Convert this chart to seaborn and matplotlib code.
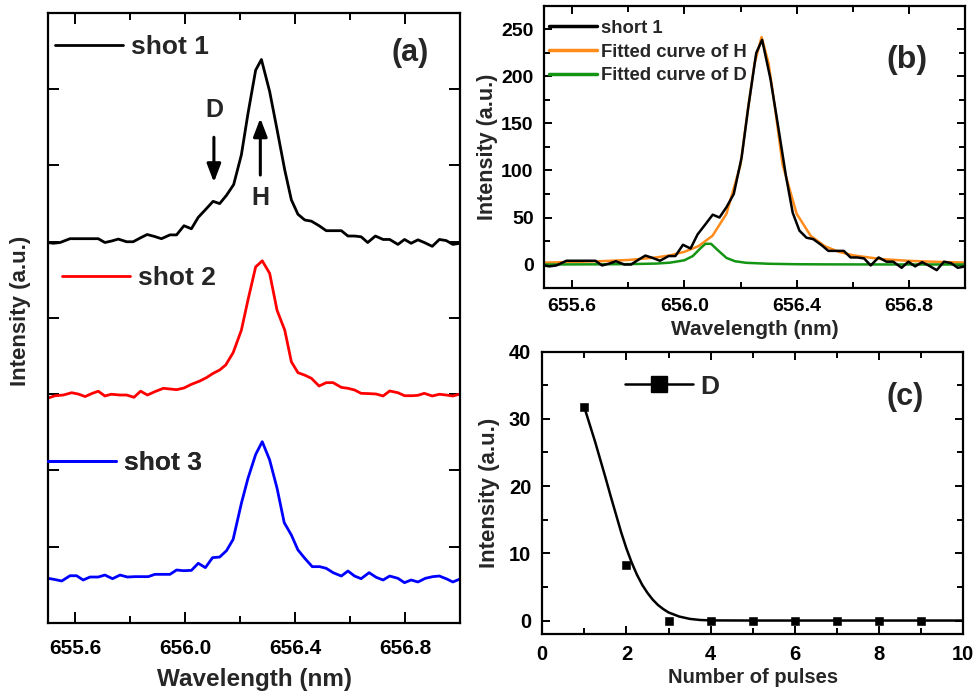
import matplotlib
matplotlib.use('Agg')
import numpy as np
import pandas as pd
import matplotlib.pyplot as plt
from matplotlib.lines import Line2D
from matplotlib.ticker import MultipleLocator, FormatStrFormatter, NullFormatter
import seaborn as sns

sns.set_theme(style='ticks')
plt.rcParams['font.family'] = ['Liberation Sans', 'DejaVu Sans']
plt.rcParams['font.weight'] = 'bold'
plt.rcParams['axes.labelweight'] = 'bold'

# ---------------- data ----------------
shot1_wl = [655.500, 655.519, 655.544, 655.580, 655.604, 655.628, 655.655, 655.683, 655.707, 655.732,
            655.756, 655.786, 655.810, 655.836, 655.861, 655.887, 655.913, 655.944, 655.968, 655.995,
            656.022, 656.047, 656.073, 656.101, 656.125, 656.150, 656.176, 656.204, 656.228, 656.256,
            656.277, 656.307, 656.334, 656.362, 656.386, 656.410, 656.435, 656.459, 656.487, 656.513,
            656.544, 656.568, 656.592, 656.616, 656.640, 656.664, 656.692, 656.720, 656.744, 656.774,
            656.798, 656.822, 656.847, 656.870, 656.899, 656.925, 656.950, 656.974, 657.000]
shot1_int = [-1, -2, -1, 4, 4, 4, 4, 4, -1, 1,
             3.5, 0, 0, 5, 9.5, 7, 4, 9, 9, 21,
             17, 32, 42, 53, 50, 61, 75, 114, 168, 225,
             239, 197, 147, 94, 55, 36, 28.5, 27, 21, 14.5,
             14.5, 14.5, 7.5, 7.5, 6.5, -1, 7.5, 3, 3, -3.5,
             3, -2, 2.5, -1, -6, 3, 1.5, -3.5, -2]

shot2_wl = [655.500, 655.525, 655.556, 655.586, 655.610, 655.635, 655.660, 655.683, 655.707, 655.730,
            655.762, 655.786, 655.813, 655.837, 655.862, 655.889, 655.920, 655.944, 655.968, 655.995,
            656.022, 656.053, 656.077, 656.101, 656.125, 656.147, 656.174, 656.204, 656.228, 656.256,
            656.280, 656.307, 656.334, 656.362, 656.386, 656.410, 656.435, 656.459, 656.487, 656.513,
            656.538, 656.568, 656.592, 656.616, 656.640, 656.670, 656.695, 656.720, 656.744, 656.774,
            656.798, 656.828, 656.847, 656.870, 656.899, 656.925, 656.950, 656.974, 657.000]
shot2_int = [-5, -2, -1, 2, 0.3, -3, 1, 4, -2.3, 0,
             -1, -1, -4, 4, -1, 3.4, 7.8, 6.9, 6, 8.2,
             13, 17.4, 21.8, 27.4, 31.8, 38.4, 54.5, 84, 123.6, 167,
             175, 158.6, 110, 84, 42.6, 28.3, 25, 20.9, 10.8, 15.2,
             15.2, 9, 7.8, 5.6, 1.2, 0.8, 0.3, -2.3, 4.3, 2,
             -1.9, -1.9, -1.4, 1.2, -2.3, 0, -1, -2.3, 0.3]

shot3_wl = [655.500, 655.525, 655.550, 655.580, 655.604, 655.628, 655.653, 655.683, 655.707, 655.735,
            655.762, 655.789, 655.816, 655.840, 655.865, 655.889, 655.915, 655.944, 655.968, 655.993,
            656.022, 656.047, 656.073, 656.099, 656.125, 656.150, 656.174, 656.204, 656.228, 656.256,
            656.280, 656.307, 656.334, 656.360, 656.386, 656.410, 656.435, 656.462, 656.489, 656.513,
            656.538, 656.568, 656.592, 656.616, 656.640, 656.669, 656.695, 656.720, 656.744, 656.774,
            656.798, 656.822, 656.847, 656.874, 656.901, 656.925, 656.952, 656.974, 657.000]
shot3_int = [-1.4, -3, -4.9, 2, 2, -3.6, 0.3, 0.3, 2.9, -1.9,
             2.9, 0.3, 0.8, 0.8, 0.8, 3.8, 3.8, 3.8, 9.5, 8.6,
             9, 18.3, 12.6, 25.7, 26.5, 34.9, 49.7, 96.9, 129.7, 161,
             177.8, 153.8, 116.6, 71.6, 55.4, 35.8, 24.8, 13.9, 13.9, 11.7,
             6, 1.6, 8.2, 1.6, -1.9, 6, -0.1, -3.6, 1.6, -1.4,
             -7.1, -3.6, -6.2, -1.4, 0.8, 1.6, -2.3, -6.2, -2.3]

fitH_wl = [655.50, 655.60, 655.70, 655.80, 655.90, 655.95, 656.00, 656.05, 656.10, 656.15,
           656.20, 656.225, 656.25, 656.275, 656.30, 656.325, 656.35, 656.40, 656.45, 656.50,
           656.55, 656.60, 656.70, 656.80, 656.90, 657.00]
fitH_int = [2.0, 2.7, 3.5, 4.8, 7.5, 9.8, 13.5, 19.5, 30.5, 54,
            106, 162, 214, 242, 214, 162, 106, 54, 30.5, 19.5,
            13.5, 9.8, 5.8, 3.9, 2.8, 2.1]

fitD_wl = [655.50, 655.70, 655.80, 655.90, 655.95, 656.00, 656.03, 656.06, 656.075, 656.095,
           656.12, 656.15, 656.18, 656.22, 656.30, 656.40, 656.50, 656.70, 657.00]
fitD_int = [0, 0.2, 0.4, 1, 2, 4.5, 9, 18, 22, 22,
            15, 7, 3.5, 1.8, 0.8, 0.3, 0.15, 0.05, 0]

pulses = [1, 2, 3, 4, 5, 6, 7, 8, 9]
D_int = [31.7, 8.3, 0, 0, 0, 0, 0, 0, 0]

fitC_x = [1.0, 1.125, 1.25, 1.375, 1.5, 1.625, 1.75, 1.875, 2.0, 2.125, 2.25, 2.375, 2.5,
          2.625, 2.75, 2.875, 3.0, 3.25, 3.5, 3.75, 4.0, 5.0, 6.0, 8.0, 10.0]
fitC_y = [31.7, 29.2, 26.7, 24.0, 21.3, 18.5, 15.8, 13.1, 10.7, 8.6, 6.8, 5.3, 4.1,
          3.1, 2.3, 1.7, 1.2, 0.6, 0.25, 0.08, 0.02, 0, 0, 0, 0]

shot_labels = ['shot 1', 'shot 2', 'shot 3']
shot_colors = ['black', '#FF0000', '#0000FF']
offsets = [5.0, 3.0, 0.6]
scale = 100.0

# ---------------- figure ----------------
fig = plt.figure(figsize=(9.76, 6.95), dpi=100)
axA = fig.add_axes([0.0492, 0.1036, 0.4221, 0.8777])
axB = fig.add_axes([0.5574, 0.5856, 0.4314, 0.4058])
axC = fig.add_axes([0.5556, 0.0878, 0.4314, 0.4062])

def style_axes(ax, lab_size, pad):
    for s in ax.spines.values():
        s.set_linewidth(1.6)
        s.set_color('black')
    ax.tick_params(which='both', direction='in', top=True, right=True, width=1.4,
                   colors='black', labelsize=lab_size, pad=pad)
    for t in ax.get_xticklabels() + ax.get_yticklabels():
        t.set_fontweight('bold')

# ---- panel (a)
shots = [(shot1_wl, shot1_int), (shot2_wl, shot2_int), (shot3_wl, shot3_int)]
lines_a = []
for (wl, it), lab, col, off in zip(shots, shot_labels, shot_colors, offsets):
    df = pd.DataFrame({'wl': wl, 'y': np.array(it) / scale + off})
    sns.lineplot(data=df, x='wl', y='y', ax=axA, color=col, lw=2.0, legend=False, sort=False)
    lines_a.append(axA.lines[-1])

axA.set_xlim(655.5, 657.0)
axA.set_ylim(0, 8)
axA.xaxis.set_major_locator(MultipleLocator(0.4))
axA.xaxis.set_minor_locator(MultipleLocator(0.2))
axA.xaxis.set_major_formatter(FormatStrFormatter('%.1f'))
axA.yaxis.set_major_locator(MultipleLocator(1))
axA.yaxis.set_major_formatter(NullFormatter())
style_axes(axA, 15, 11.5)
axA.tick_params(which='major', length=8)
axA.tick_params(which='minor', length=5, width=1.4)
axA.set_xlabel('Wavelength (nm)', fontsize=17.5, fontweight='bold', labelpad=7)
axA.set_ylabel('Intensity (a.u.)', fontsize=16, fontweight='bold')
axA.yaxis.set_label_coords(-0.041, 0.511)

leg_pos = [(0.017, 0.944), (0.034, 0.566), (0.0, 0.262)]
for ln, lab, pos in zip(lines_a, shot_labels, leg_pos):
    lg = axA.legend([ln], [lab], loc='center left', bbox_to_anchor=pos, frameon=False,
                    borderpad=0, borderaxespad=0, handlelength=2.57, handletextpad=0.32,
                    prop={'size': 19, 'weight': 'bold'})
    axA.add_artist(lg)

axA.annotate('', xy=(656.104, 5.78), xytext=(656.104, 6.37),
             arrowprops=dict(arrowstyle='-|>,head_length=1.1,head_width=0.42', lw=2.2,
                             color='black', shrinkA=0, shrinkB=0, mutation_scale=10))
axA.text(656.104, 6.73, 'D', ha='center', va='center', fontsize=18, fontweight='bold')
axA.annotate('', xy=(656.273, 6.62), xytext=(656.273, 5.875),
             arrowprops=dict(arrowstyle='-|>,head_length=1.1,head_width=0.42', lw=2.2,
                             color='black', shrinkA=0, shrinkB=0, mutation_scale=10))
axA.text(656.273, 5.57, 'H', ha='center', va='center', fontsize=18, fontweight='bold')
axA.text(0.879, 0.934, '(a)', transform=axA.transAxes, ha='center', va='center',
         fontsize=22, fontweight='bold')

# ---- panel (b)
dfB = pd.DataFrame({'wl': shot1_wl, 'y': shot1_int})
sns.lineplot(data=dfB, x='wl', y='y', ax=axB, color='black', lw=1.8, label='short 1', sort=False)
dfH = pd.DataFrame({'wl': fitH_wl, 'y': fitH_int})
sns.lineplot(data=dfH, x='wl', y='y', ax=axB, color='#FF8C1A', lw=1.8, label='Fitted curve of H', sort=False)
dfD = pd.DataFrame({'wl': fitD_wl, 'y': fitD_int})
sns.lineplot(data=dfD, x='wl', y='y', ax=axB, color='#139413', lw=1.8, label='Fitted curve of D', sort=False)
axB.lines[0].set_zorder(3)
axB.set_xlim(655.5, 657.0)
axB.set_ylim(-25, 275)
axB.xaxis.set_major_locator(MultipleLocator(0.4))
axB.xaxis.set_minor_locator(MultipleLocator(0.2))
axB.xaxis.set_major_formatter(FormatStrFormatter('%.1f'))
axB.yaxis.set_major_locator(MultipleLocator(50))
axB.yaxis.set_minor_locator(MultipleLocator(25))
style_axes(axB, 14, 7.5)
axB.tick_params(which='major', length=6)
axB.tick_params(which='minor', length=4, width=1.4)
axB.set_xlabel('Wavelength (nm)', fontsize=15, fontweight='bold', labelpad=3)
axB.set_ylabel('Intensity (a.u.)', fontsize=15.5, fontweight='bold', labelpad=2)
lgB = axB.legend(loc='upper left', bbox_to_anchor=(0.012, 0.951), frameon=False, borderpad=0,
                 borderaxespad=0, handlelength=2.6, handletextpad=0.23, labelspacing=0.37,
                 prop={'size': 13.3, 'weight': 'bold'})
for h in lgB.get_lines():
    h.set_linewidth(2.5)
axB.text(0.862, 0.809, '(b)', transform=axB.transAxes, ha='center', va='center',
         fontsize=23, fontweight='bold')

# ---- panel (c)
dfC = pd.DataFrame({'x': fitC_x, 'y': fitC_y})
sns.lineplot(data=dfC, x='x', y='y', ax=axC, color='black', lw=1.8, legend=False, sort=False)
dfP = pd.DataFrame({'x': pulses, 'y': D_int})
sns.scatterplot(data=dfP, x='x', y='y', ax=axC, marker='s', s=28, color='black',
                edgecolor='black', legend=False, zorder=4)
axC.set_xlim(0, 10)
axC.set_ylim(-2, 40)
axC.xaxis.set_major_locator(MultipleLocator(2))
axC.xaxis.set_minor_locator(MultipleLocator(1))
axC.yaxis.set_major_locator(MultipleLocator(10))
axC.yaxis.set_minor_locator(MultipleLocator(5))
style_axes(axC, 14.5, 8)
axC.tick_params(which='major', length=6)
axC.tick_params(which='minor', length=4, width=1.4)
axC.set_xlabel('Number of pulses', fontsize=14.5, fontweight='bold', labelpad=3)
axC.set_ylabel('Intensity (a.u.)', fontsize=16, fontweight='bold', labelpad=6)
hD = Line2D([], [], color='black', lw=1.8, marker='s', markersize=11)
axC.legend([hD], ['D'], loc='center left', bbox_to_anchor=(0.196, 0.876), frameon=False,
           borderpad=0, borderaxespad=0, handlelength=2.57, handletextpad=0.3,
           prop={'size': 19, 'weight': 'bold'})
axC.text(0.862, 0.84, '(c)', transform=axC.transAxes, ha='center', va='center',
         fontsize=22, fontweight='bold')

fig.savefig('out.png', dpi=100)
